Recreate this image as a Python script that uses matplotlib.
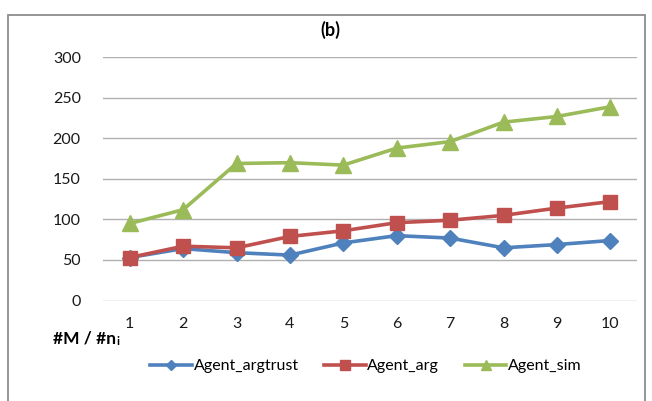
import matplotlib
matplotlib.use("Agg")
import matplotlib.pyplot as plt
from matplotlib.patches import Rectangle

categories = ["1", "2", "3", "4", "5", "6", "7", "8", "9", "10"]
agent_argtrust = [53, 64, 59, 56, 71, 80, 77, 65, 69, 74]
agent_arg = [53, 67, 65, 79, 86, 96, 99, 105, 114, 122]
agent_sim = [95, 112, 169, 170, 167, 188, 196, 220, 227, 239]
y_ticks = [0, 50, 100, 150, 200, 250, 300]

plt.rcParams['font.family'] = ['Lato', 'DejaVu Sans']

fig = plt.figure(figsize=(6.52, 4.01), dpi=100)
W, H = 652, 401
ax = fig.add_axes([103 / W, 1 - 300.5 / H, (637 - 103) / W, (300.5 - 57.3) / H])

x = list(range(len(categories)))
ax.plot(x, agent_argtrust, color="#4F81BD", lw=2.6, marker="D", ms=8,
        label="Agent_argtrust", zorder=3)
ax.plot(x, agent_arg, color="#C0504D", lw=2.6, marker="s", ms=9.5,
        label="Agent_arg", zorder=4)
ax.plot(x, agent_sim, color="#9BBB59", lw=2.6, marker="^", ms=11,
        label="Agent_sim", zorder=5)

ax.set_xlim(-0.5, len(categories) - 0.5)
ax.set_ylim(0, 300)
ax.set_yticks(y_ticks)
ax.set_xticks(x)
ax.set_xticklabels(categories)
ax.grid(axis="y", color="#B0B0B0", lw=1.0)
ax.set_axisbelow(True)
for s in ax.spines.values():
    s.set_visible(False)
ax.tick_params(axis="both", length=0, labelsize=11.5, colors="#1a1a1a")
ax.tick_params(axis="y", pad=16)
ax.tick_params(axis="x", pad=12)

fig.text(330 / W, 1 - 30 / H, "(b)", ha="center", va="center",
         fontsize=13, fontweight="bold")
t = fig.text(53 / W, 1 - 339 / H, "#M / #n", ha="left", va="center",
             fontsize=12.5, fontweight="bold")
fig.add_artist(matplotlib.text.Annotation("i", xy=(1, 0), xycoords=t,
                                          xytext=(0.5, 0), textcoords="offset points",
                                          ha="left", va="bottom", fontsize=8.5,
                                          fontweight="bold"))

fig.legend(loc="center", bbox_to_anchor=(366 / W, 1 - 366 / H), ncol=3,
           frameon=False, fontsize=11.5, handlelength=2.6, columnspacing=1.6,
           handletextpad=0.1, markerscale=0.7)

fig.patches.append(Rectangle((8 / W, -0.1), (645 - 8) / W, 1.1 - 15 / H,
                             transform=fig.transFigure, fill=False,
                             edgecolor="#8C8C8C", lw=1.3))

fig.savefig("out.png", dpi=100)
